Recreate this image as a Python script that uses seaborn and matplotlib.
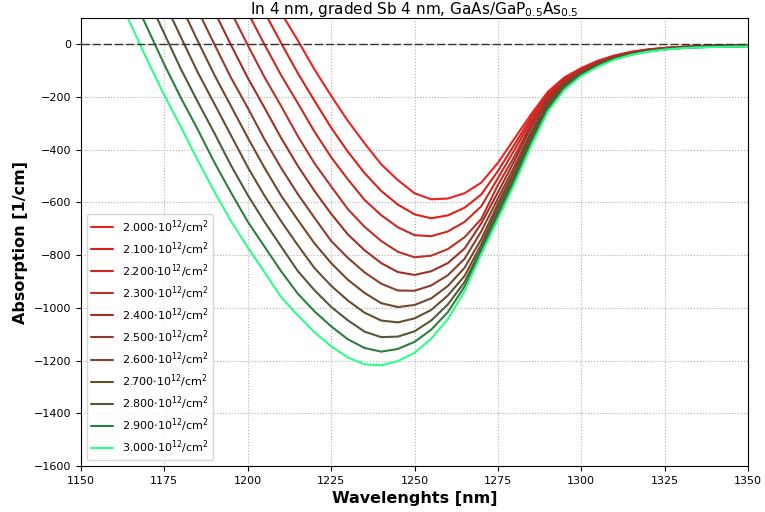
import numpy as np
import pandas as pd
import matplotlib
matplotlib.use("Agg")
import matplotlib.pyplot as plt
import seaborn as sns

nan = np.nan
wavelengths = [1160, 1165, 1170, 1175, 1180, 1185, 1190, 1195, 1200, 1205,
               1210, 1215, 1220, 1225, 1230, 1235, 1240, 1245, 1250, 1255,
               1260, 1265, 1270, 1275, 1280, 1285, 1290, 1295, 1300, 1305,
               1310, 1315, 1320, 1325, 1330, 1335, 1340, 1345, 1350]

densities = ["2.000", "2.100", "2.200", "2.300", "2.400", "2.500",
             "2.600", "2.700", "2.800", "2.900", "3.000"]

abs_200 = [nan]*9 + [235, 120, 15, -95, -195, -290, -375, -455, -515, -565, -588, -585, -565, -525, -450, -357, -265, -180, -125, -90, -62, -42, -28, -19, -13, -9, -6, -4, -3, -2]
abs_210 = [nan]*8 + [241, 123, 5, -109, -214, -316, -407, -488, -556, -608, -645, -660, -649, -620, -570, -481, -380, -277, -188, -130, -93, -64, -44, -29, -20, -14, -10, -7, -5, -4, -3]
abs_220 = [nan]*7 + [241, 121, 0, -117, -223, -331, -428, -512, -590, -648, -694, -724, -728, -710, -674, -615, -508, -400, -289, -195, -134, -96, -67, -45, -30, -21, -14, -10, -7, -5, -4, -3]
abs_230 = [nan]*6 + [248, 123, -3, -124, -234, -348, -451, -539, -625, -692, -746, -787, -808, -802, -777, -732, -663, -534, -424, -301, -203, -139, -99, -69, -47, -32, -22, -15, -11, -8, -6, -5, -4]
abs_240 = [nan]*5 + [254, 125, -3, -127, -240, -355, -461, -556, -643, -721, -781, -830, -864, -875, -861, -830, -775, -680, -562, -441, -313, -210, -143, -102, -71, -48, -33, -23, -16, -11, -8, -6, -5, -4]
abs_250 = [nan]*4 + [260, 130, 0, -127, -241, -360, -469, -568, -658, -746, -810, -865, -908, -934, -935, -915, -876, -814, -710, -585, -462, -330, -218, -148, -105, -74, -50, -34, -24, -17, -12, -9, -7, -6, -5]
abs_260 = [nan]*3 + [277, 146, 13, -116, -235, -354, -468, -574, -666, -755, -830, -893, -943, -982, -997, -989, -964, -917, -848, -740, -605, -478, -337, -225, -152, -108, -76, -52, -35, -24, -17, -13, -10, -8, -7, -6]
abs_270 = [nan]*2 + [294, 160, 26, -106, -226, -346, -466, -574, -671, -762, -849, -916, -972, -1018, -1048, -1055, -1040, -1008, -953, -879, -760, -620, -492, -349, -233, -157, -111, -78, -53, -36, -25, -18, -13, -10, -8, -7, -6]
abs_280 = [nan]*1 + [312, 176, 40, -95, -218, -337, -460, -572, -673, -767, -860, -933, -996, -1047, -1090, -1111, -1109, -1089, -1048, -987, -902, -776, -636, -505, -361, -240, -161, -114, -80, -55, -38, -26, -19, -14, -11, -9, -8, -7]
abs_290 = [332, 196, 59, -77, -204, -323, -448, -563, -673, -767, -861, -946, -1013, -1070, -1119, -1152, -1166, -1156, -1129, -1083, -1016, -919, -786, -650, -517, -373, -248, -166, -117, -83, -56, -39, -27, -19, -14, -11, -9, -8, -7]
abs_300 = [211, 74, -63, -194, -314, -440, -559, -671, -770, -864, -959, -1028, -1092, -1146, -1188, -1214, -1218, -1202, -1171, -1117, -1043, -937, -797, -664, -530, -385, -255, -172, -120, -85, -58, -40, -28, -20, -15, -12, -10, -9, -8]

series = [abs_200, abs_210, abs_220, abs_230, abs_240, abs_250,
          abs_260, abs_270, abs_280, abs_290, abs_300]

colors = ["#ee2020", "#dc2018", "#c82a22", "#b83228", "#a03024",
          "#8c3e2c", "#784628", "#664e30", "#505a38", "#2e7e3e", "#2cff88"]

labels = [f"{d}$\\cdot$10$^{{12}}$/cm$^2$" for d in densities]

rows = []
for lab, vals in zip(labels, series):
    for w, v in zip(wavelengths, vals):
        rows.append({"wl": w, "abs": v, "label": lab})
df = pd.DataFrame(rows)

sns.set_style("white")
plt.rcParams['font.family'] = ['DejaVu Sans']
plt.rcParams['text.color'] = 'black'
plt.rcParams['axes.labelcolor'] = 'black'
plt.rcParams['xtick.color'] = 'black'
plt.rcParams['ytick.color'] = 'black'

fig = plt.figure(figsize=(7.65, 5.12), dpi=100)
ax = fig.add_axes([81/765, 1-466/512, (748-81)/765, (466-18)/512])

ax.axhline(0, color="#333333", lw=1.0, ls=(0, (6, 2)), zorder=3)
sns.lineplot(data=df, x="wl", y="abs", hue="label", palette=colors,
             hue_order=labels, linewidth=1.5, ax=ax, sort=False, legend=True)

ax.set_xlim(1150, 1350)
ax.set_ylim(-1600, 100)
ax.set_xticks(np.arange(1150, 1351, 25))
ax.set_yticks(np.arange(-1600, 1, 200))
ax.tick_params(labelsize=8, direction="out", length=3.5, width=0.8,
               left=True, bottom=True, colors="black")
ax.grid(True, linestyle=":", color="#b0b0b0", linewidth=0.8)
for s in ax.spines.values():
    s.set_color("black")
    s.set_linewidth(0.8)

ax.set_xlabel("Wavelenghts [nm]", fontsize=11.5, fontweight="bold", color="black")
ax.set_ylabel("Absorption [1/cm]", fontsize=11.5, fontweight="bold", color="black")
ax.set_title("In 4 nm, graded Sb 4 nm, GaAs/GaP$_{0.5}$As$_{0.5}$",
             fontsize=11, pad=3, color="black")

handles, labs = ax.get_legend_handles_labels()
ax.legend(handles, labs, loc="lower left", fontsize=8, frameon=True,
          labelspacing=0.4)

fig.savefig("out.png", dpi=100)
